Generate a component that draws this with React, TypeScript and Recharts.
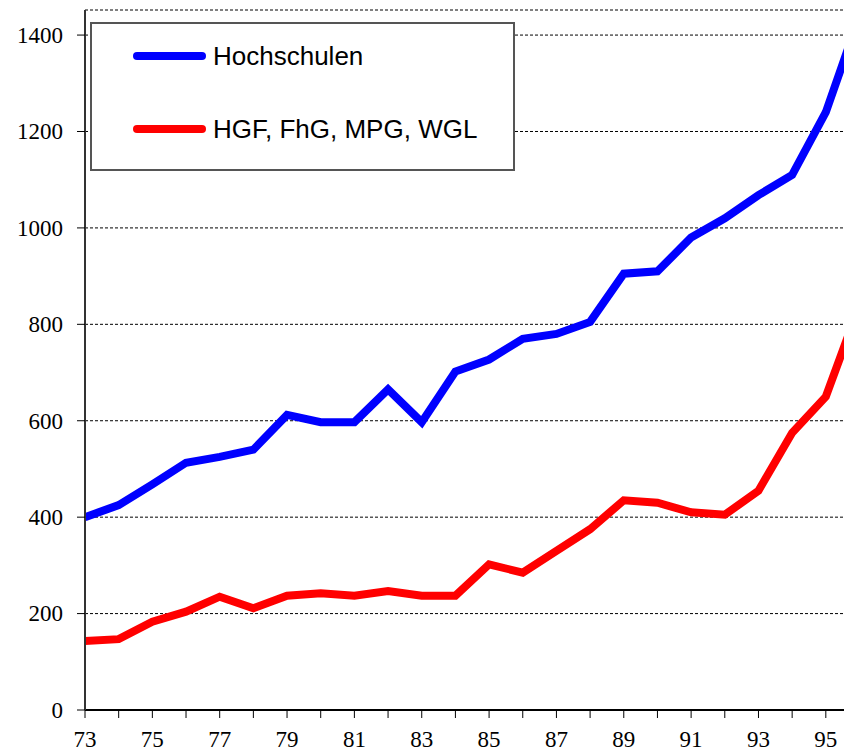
import { LineChart, Line, XAxis, YAxis, CartesianGrid, Legend } from "recharts"

// Jahre (19xx), die Achse läuft rechts über den Bildrand hinaus
const years = [73, 74, 75, 76, 77, 78, 79, 80, 81, 82, 83, 84, 85, 86, 87, 88, 89, 90, 91, 92, 93, 94, 95, 96]

const hochschulen = [400, 425, 468, 513, 525, 540, 612, 597, 597, 665, 597, 702, 727, 770, 780, 805, 905, 910, 980, 1020, 1068, 1110, 1240, 1440]

const ausseruniv = [143, 147, 183, 204, 235, 211, 237, 242, 237, 247, 237, 237, 302, 285, 330, 375, 435, 430, 410, 405, 455, 575, 650, 840]

const seriesNames = ["Hochschulen", "HGF, FhG, MPG, WGL"]

const xTicks = years.filter((y) => y <= 95)
const yTicks = [0, 200, 400, 600, 800, 1000, 1200, 1400]

const data = years.map((year, i) => ({
  year,
  hochschulen: hochschulen[i],
  ausseruniv: ausseruniv[i],
}))

// das Bild ist rechts kurz nach 95 abgeschnitten
const xDomain = [73, 95.54]

const SERIF = "Liberation Serif"

const XTick = (props: any) => {
  const v = props.payload?.value
  if (v % 2 !== 1) return <g />
  return (
    <text x={props.x} y={props.y} dy="0.71em" textAnchor="middle" fontSize={23} fill="#000" fontFamily={SERIF}>
      {v}
    </text>
  )
}

const YTick = (props: any) => (
  <text x={props.x} y={props.y} dy="0.34em" textAnchor="end" fontSize={23} fill="#000" fontFamily={SERIF}>
    {props.payload?.value}
  </text>
)

const renderLegend = (props: any) => {
  const items = [...(props.payload ?? [])].sort(
    (a: any, b: any) => seriesNames.indexOf(a.value) - seriesNames.indexOf(b.value)
  )
  return (
    <div
      style={{
        width: 421,
        height: 145,
        border: "2px solid #555",
        background: "#fff",
        position: "relative",
        fontFamily: "'Liberation Sans', Arial, sans-serif",
      }}
    >
      {items.map((item: any, i: number) => (
        <div
          key={item.value}
          style={{
            position: "absolute",
            left: 41,
            top: (i === 0 ? 32 : 105) - 20,
            height: 40,
            display: "flex",
            alignItems: "center",
            whiteSpace: "nowrap",
          }}
        >
          <span
            style={{
              display: "inline-block",
              width: 73,
              height: 8,
              borderRadius: 4,
              background: item.color,
              marginRight: 7,
            }}
          />
          <span style={{ fontSize: 26, color: "#000" }}>{item.value}</span>
        </div>
      ))}
    </div>
  )
}

export default function App() {
  return (
    <div style={{ position: "absolute", left: 0, top: 0, width: 844, height: 754, overflow: "hidden", background: "#fff" }}>
      <LineChart width={844} height={754} data={data} margin={{ top: 10, right: 0, left: 8, bottom: 0 }}>
        <CartesianGrid vertical={false} stroke="#000" strokeDasharray="3 2" />
        <XAxis
          dataKey="year"
          type="number"
          domain={xDomain}
          allowDataOverflow
          ticks={xTicks}
          interval={0}
          height={44}
          tickSize={8}
          tickMargin={13}
          tick={<XTick />}
          axisLine={{ stroke: "#000", strokeWidth: 2 }}
          tickLine={{ stroke: "#000", strokeWidth: 1 }}
        />
        <XAxis
          xAxisId="top"
          orientation="top"
          dataKey="year"
          type="number"
          domain={xDomain}
          allowDataOverflow
          height={0}
          tick={false}
          tickLine={false}
          axisLine={{ stroke: "#888", strokeWidth: 2 }}
        />
        <YAxis
          type="number"
          domain={[0, 1452]}
          ticks={yTicks}
          interval={0}
          width={77}
          tickSize={8}
          tickMargin={14}
          tick={<YTick />}
          axisLine={{ stroke: "#333", strokeWidth: 2 }}
          tickLine={{ stroke: "#000", strokeWidth: 1 }}
        />
        <Legend
          verticalAlign="middle"
          align="center"
          content={renderLegend}
          wrapperStyle={{ left: 90, top: 22, width: 425, height: 149 }}
        />
        <Line
          type="linear"
          dataKey="hochschulen"
          name={seriesNames[0]}
          stroke="#0000ff"
          strokeWidth={8}
          dot={false}
          activeDot={false}
          isAnimationActive={false}
        />
        <Line
          type="linear"
          dataKey="ausseruniv"
          name={seriesNames[1]}
          stroke="#ff0000"
          strokeWidth={8}
          dot={false}
          activeDot={false}
          isAnimationActive={false}
        />
      </LineChart>
    </div>
  )
}
